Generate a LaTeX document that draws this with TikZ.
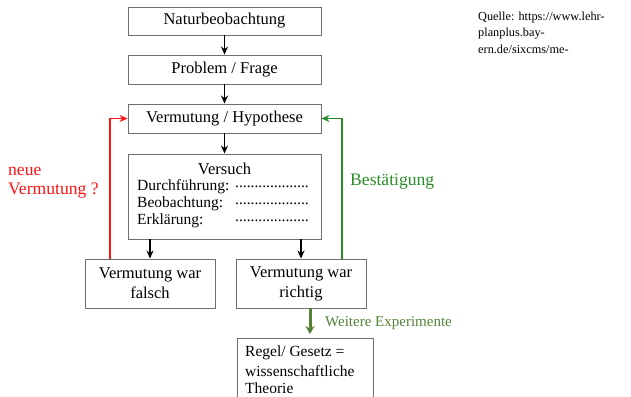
\documentclass[tikz,border=0pt]{standalone}
\usepackage{fontspec}
\setmainfont{Liberation Serif}
\usetikzlibrary{arrows.meta}
\definecolor{boxgray}{RGB}{110,110,110}
\definecolor{redc}{RGB}{255,20,20}
\definecolor{greenc}{RGB}{40,140,40}
\definecolor{olive}{RGB}{84,130,53}
\tikzset{
  box/.style={draw=boxgray, line width=0.9pt, inner sep=0pt, align=center, font=\fontsize{16.5}{20}\selectfont},
  arr/.style={-{Stealth[length=8pt,width=7pt]}, line width=1.7pt, black},
  redarr/.style={-{Stealth[length=8pt,width=7pt]}, line width=1.7pt, redc},
  greenarr/.style={-{Stealth[length=8pt,width=7pt]}, line width=1.7pt, greenc},
  thickarr/.style={-{Stealth[length=8pt,width=9pt]}, line width=3pt, olive},
  txt/.style={inner sep=0pt, anchor=west, font=\fontsize{15.5}{17}\selectfont},
  lab/.style={inner sep=0pt, anchor=west, font=\fontsize{17.6}{20}\selectfont},
  src/.style={inner sep=0pt, anchor=west, font=\fontsize{12.3}{14}\selectfont}
}
\begin{document}
\begin{tikzpicture}[x=1pt,y=-1pt]
\useasboundingbox (0,0) rectangle (631,396);
\node[box, minimum width=193pt, minimum height=28pt] (nat) at (224.5,21) {Naturbeobachtung};
\node[box, minimum width=193pt, minimum height=29pt] (prob) at (224.5,69.5) {Problem / Frage};
\node[box, minimum width=193pt, minimum height=29pt] (hyp) at (224.5,118.5) {Vermutung / Hypothese};
\node[box, minimum width=193pt, minimum height=85pt] (vers) at (224.5,196.5) {};
\node[box, minimum width=130pt, minimum height=49pt] (fal) at (150,283.5) {Vermutung war\\falsch};
\node[box, minimum width=130pt, minimum height=49pt] (ric) at (301,283.5) {Vermutung war\\richtig};
\node[box, minimum width=136pt, minimum height=62pt] (reg) at (305,369) {};

\node[inner sep=0pt, font=\fontsize{16.5}{18}\selectfont] (vt) at (224.5,169) {Versuch};
\node[txt] (d1) at (137,187) {Durchführung:};
\node[txt] (d2) at (137,204) {Beobachtung:};
\node[txt] (d3) at (137,221) {Erklärung:};
\node[txt] (p1) at (235,187) {...................};
\node[txt] (p2) at (235,204) {...................};
\node[txt] (p3) at (235,221) {...................};

\node[txt] (r1) at (245,353) {Regel/ Gesetz =};
\node[txt] (r2) at (245,371) {wissenschaftliche};
\node[txt] (r3) at (245,388) {Theorie};

\draw[arr] (nat) -- (prob);
\draw[arr] (prob) -- (hyp);
\draw[arr] (hyp) -- (vers);
\draw[arr] (vers.south -| fal.north) -- (fal.north);
\draw[arr] (vers.south -| ric.north) -- (ric.north);

\draw[redarr] ([xshift=-40pt]fal.north) |- (hyp.west);
\draw[greenarr] ([xshift=41pt]ric.north) |- (hyp.east);

\coordinate (gend) at (310,334);
\draw[thickarr] (ric.south -| gend) -- (gend);

\node[lab, text=redc] (n1) at (8,171) {neue};
\node[lab, text=redc] (n2) at (8,191) {Vermutung ?};
\node[lab, text=greenc] (bst) at (350,182) {Bestätigung};
\node[inner sep=0pt, anchor=west, text=olive, font=\fontsize{15}{17}\selectfont] (we) at (325,323) {Weitere Experimente};

\node[src] (q1) at (478,18) {Quelle: https://www.lehr-};
\node[src] (q2) at (478,34) {planplus.bay-};
\node[src] (q3) at (478,49) {ern.de/sixcms/me-};
\end{tikzpicture}
\end{document}
